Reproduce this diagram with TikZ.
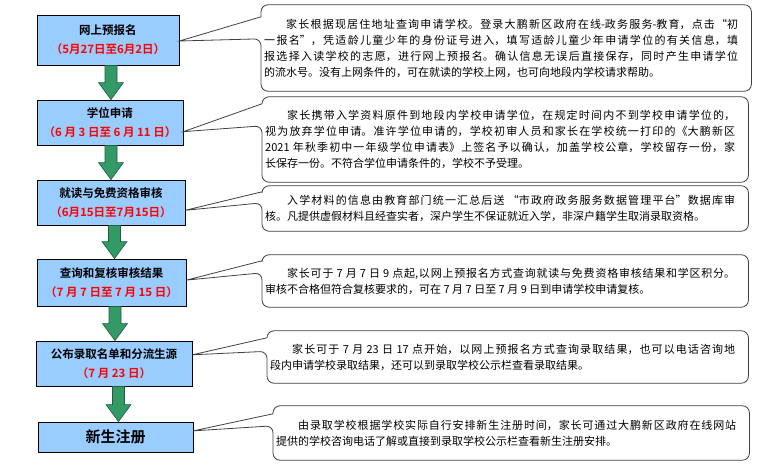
\documentclass[tikz,border=0pt]{standalone}
\usepackage{fontspec}
\setmainfont{Noto Sans CJK SC}[BoldFont={Noto Sans CJK SC Bold}]
\XeTeXlinebreaklocale "zh"
\XeTeXlinebreakskip=0pt plus 1.5pt
\usetikzlibrary{positioning,calc}
\usepackage{xcolor}
\definecolor{stepblue}{HTML}{99CCFF}
\definecolor{arrowgreen}{HTML}{339966}
\definecolor{arrowedge}{HTML}{1E5C3D}
\newcommand{\stepdate}[1]{\textcolor{red}{\fontsize{11.5}{19}\selectfont #1}}
% callout frame round a text node, pointer to the step box
\newcommand{\calloutframe}[5]{%
  \draw[calloutline] let \p1=(#1.north west), \p2=(#1.south east) in
    (\x1-3pt,\y1-#3pt) [rounded corners=7pt] -- (\x1-3pt,\y1) -- (\x2+13pt,\y1)
    -- (\x2+13pt,\y2) -- (\x1-3pt,\y2) -- (\x1-3pt,\y1-#4pt) [sharp corners]
    -- ($(#2.north east)!#5!(#2.south east)$) -- cycle;}
% block arrow between two steps
\newcommand{\flowarrow}[3]{%
  \filldraw[blockarrow] let \p1=($(#1.south)+(#3,0)$), \p2=(#2.north) in
    (\x1-6pt,\y1) -- (\x1+6pt,\y1) -- (\x1+6pt,\y2+17pt) -- (\x1+12.5pt,\y2+17pt)
    -- (\x1,\y2) -- (\x1-12.5pt,\y2+17pt) -- (\x1-6pt,\y2+17pt) -- cycle;}

\begin{document}
\begin{tikzpicture}[
    x=1pt, y=-1pt,
    stepbox/.style={draw=black, line width=0.8pt, fill=stepblue, align=center,
    inner sep=0pt, font=\fontsize{11.5}{19}\selectfont\bfseries},
    calloutbox/.style={anchor=west, inner sep=0pt, align=justify,
    font=\fontsize{11}{16}\selectfont},
    calloutline/.style={draw=black!75, line width=0.8pt},
    blockarrow/.style={fill=arrowgreen, draw=arrowedge, line width=0.6pt}
    ]
\useasboundingbox (0,0) rectangle (774,470);

%steps on the left
\node[stepbox, minimum width=142pt, minimum height=50pt] (b1) at (108,40) {网上预报名\\\stepdate{（5月27日至6月2日）}};
\node[stepbox, minimum width=146pt, minimum height=45pt] (b2) at (110,122.5) {学位申请\\\stepdate{（6 月 3 日至 6 月 11 日）}};
\node[stepbox, minimum width=148pt, minimum height=45pt] (b3) at (111,202.5) {就读与免费资格审核\\\stepdate{（6月15日至7月15日）}};
\node[stepbox, minimum width=149pt, minimum height=47pt] (b4) at (111.5,282.5) {查询和复核审核结果\\\stepdate{（7 月 7 日至 7 月 15 日）}};
\node[stepbox, minimum width=156pt, minimum height=45pt] (b5) at (114,363.5) {公布录取名单和分流生源\\\stepdate{（7 月 23 日）}};
\node[stepbox, minimum width=155pt, minimum height=30pt] (b6) at (115.5,437) {\fontsize{15}{18}\selectfont 新生注册};

\flowarrow{b1}{b2}{3}
\flowarrow{b2}{b3}{1}
\flowarrow{b3}{b4}{3.5}
\flowarrow{b4}{b5}{3.5}
\flowarrow{b5}{b6}{4.5}

%notes on the right
\node[calloutbox, text width=474pt, minimum height=86pt] (t1) at (264,48) {\hspace*{2em}家长根据现居住地址查询申请学校。登录大鹏新区政府在线-政务服务-教育，点击“初\linebreak 一报名”，凭适龄儿童少年的身份证号进入，填写适龄儿童少年申请学位的有关信息，填\linebreak 报选择入读学校的志愿，进行网上预报名。确认信息无误后直接保存，同时产生申请学位\linebreak 的流水号。没有上网条件的，可在就读的学校上网，也可向地段内学校请求帮助。};
\node[calloutbox, text width=470pt, minimum height=85pt] (t2) at (265,139.5) {\hspace*{2em}家长携带入学资料原件到地段内学校申请学位，在规定时间内不到学校申请学位的，\linebreak 视为放弃学位申请。准许学位申请的，学校初审人员和家长在学校统一打印的《大鹏新区\linebreak 2021 年秋季初中一年级学位申请表》上签名予以确认，加盖学校公章，学校留存一份，家\linebreak 长保存一份。不符合学位申请条件的，学校不予受理。};
\node[calloutbox, text width=470pt, minimum height=45pt] (t3) at (265,208.5) {\parfillskip=0pt\relax\hspace*{2em}入学材料的信息由教育部门统一汇总后送 “市政府政务服务数据管理平台”数据库审\linebreak 核。凡提供虚假材料且经查实者，深户学生不保证就近入学，非深户籍学生取消录取资格。};
\node[calloutbox, text width=470pt, minimum height=52pt] (t4) at (265,281) {\hspace*{2em}家长可于 7 月 7 日 9 点起,以网上预报名方式查询就读与免费资格审核结果和学区积分。\linebreak 审核不合格但符合复核要求的，可在 7 月 7 日至 7 月 9 日到申请学校申请复核。};
\node[calloutbox, text width=465pt, minimum height=52pt] (t5) at (270,357) {\hspace*{2em}家长可于 7 月 23 日 17 点开始，以网上预报名方式查询录取结果，也可以电话咨询地\linebreak 段内申请学校录取结果，还可以到录取学校公示栏查看录取结果。};
\node[calloutbox, text width=460pt, minimum height=54pt] (t6) at (276,433) {\hspace*{2em}由录取学校根据学校实际自行安排新生注册时间，家长可通过大鹏新区政府在线网站\linebreak 提供的学校咨询电话了解或直接到录取学校公示栏查看新生注册安排。};

\calloutframe{t1}{b1}{12}{34}{0.52}
\calloutframe{t2}{b2}{7}{29}{0.70}
\calloutframe{t3}{b3}{6}{17}{0.67}
\calloutframe{t4}{b4}{6}{18}{0.45}
\calloutframe{t5}{b5}{7}{20.5}{0.31}
\calloutframe{t6}{b6}{8}{20}{0.30}
\end{tikzpicture}
\end{document}
